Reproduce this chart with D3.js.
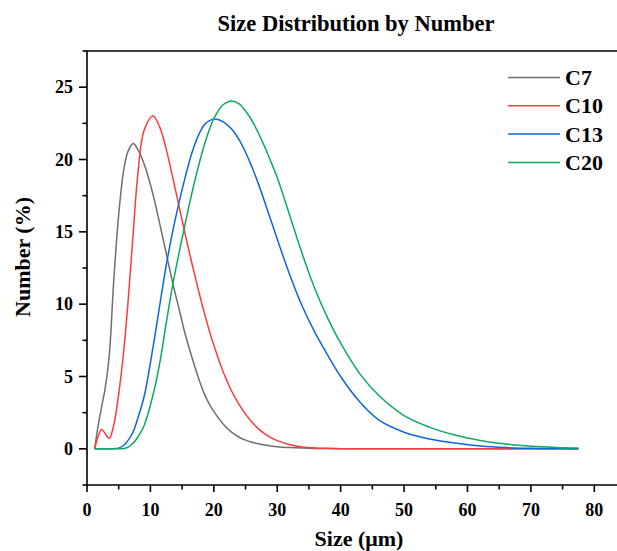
<!DOCTYPE html>
<html>
<head>
<meta charset="utf-8">
<script src="https://cdn.jsdelivr.net/npm/d3@7"></script>
<style>
  html, body { margin: 0; padding: 0; background: #fff; }
  svg { display: block; font-family: "Liberation Serif", "Times New Roman", serif; font-weight: bold; }
</style>
</head>
<body>
<svg id="chart" width="617" height="551"></svg>
<script>
// particle size grid (um), shared by all series
const sizes = [1.2, 1.8, 2.3, 2.8, 3.5, 4.2, 5, 5.8, 6.5, 7.3, 8, 9, 10.4, 11.5, 12.5, 13.5, 14.5, 15.5,
  16.5, 17.5, 18.5, 19.4, 20.2, 21.5, 22.8, 24, 25, 26, 27, 28, 29, 30, 32, 34, 36, 38, 40, 43, 46,
  50, 54, 58, 62, 66, 70, 74, 77.5];

const c7 = [0, 1.7, 2.9, 4.0, 6.4, 11.5, 16.2, 19.3, 20.6, 21.1, 20.7, 19.7, 17.6, 15.5, 13.5, 11.5,
  9.7, 7.9, 6.4, 5.0, 3.8, 3.0, 2.45, 1.7, 1.15, 0.8, 0.6, 0.46, 0.35, 0.27, 0.2, 0.15, 0.09, 0.05,
  0.03, 0.02, 0.01, 0, 0, 0, 0, 0, 0, 0, 0, 0, 0];

const c10 = [0, 0.9, 1.36, 1.1, 0.71, 1.6, 3.8, 6.8, 10.3, 15.0, 18.9, 22.0, 23.0, 22.2, 20.7, 18.8,
  16.8, 14.8, 12.9, 11.1, 9.4, 8.0, 6.9, 5.3, 4.0, 3.05, 2.4, 1.85, 1.4, 1.05, 0.77, 0.57, 0.28,
  0.12, 0.06, 0.03, 0.01, 0, 0, 0, 0, 0, 0, 0, 0, 0, 0];

const c13 = [0, 0, 0, 0, 0, 0.01, 0.05, 0.25, 0.6, 1.2, 2.1, 3.6, 7.0, 10.0, 12.7, 15.0, 17.0, 18.8,
  20.4, 21.6, 22.4, 22.7, 22.8, 22.6, 22.1, 21.35, 20.5, 19.5, 18.35, 17.1, 15.8, 14.5, 12.0, 9.8,
  8.0, 6.45, 5.0, 3.25, 2.0, 1.15, 0.68, 0.4, 0.2, 0.09, 0.04, 0.02, 0.01];

const c20 = [0, 0, 0, 0, 0, 0, 0, 0.02, 0.12, 0.4, 0.8, 1.6, 3.7, 6.0, 8.7, 11.3, 13.5, 15.6, 17.6,
  19.4, 21.0, 22.2, 23.0, 23.8, 24.05, 23.85, 23.35, 22.7, 21.85, 20.9, 19.85, 18.75, 16.1, 13.4,
  11.0, 9.0, 7.3, 5.2, 3.7, 2.3, 1.5, 0.95, 0.58, 0.33, 0.18, 0.1, 0.06];

const seriesNames = ['C7', 'C10', 'C13', 'C20'];
const seriesValues = [c7, c10, c13, c20];
const seriesColors = ['#6f6f6f', '#ff3a3a', '#0d66dd', '#0aaa62'];

const xTicks = [0, 10, 20, 30, 40, 50, 60, 70, 80];
const yTicks = [0, 5, 10, 15, 20, 25];

const svg = d3.select('#chart');
const margin = { left: 87, top: 51, bottom: 485, right: 626 };

const x = d3.scaleLinear().domain([0, 85]).range([margin.left, margin.right]);
const y = d3.scaleLinear().domain([-2.5, 27.5]).range([margin.bottom, margin.top]);

// frame (top + left + bottom, right side falls outside the window)
svg.append('path')
  .attr('d', `M${margin.right},${margin.top}H${margin.left}V${margin.bottom}H${margin.right}`)
  .attr('fill', 'none')
  .attr('stroke', '#000')
  .attr('stroke-width', 1.6);

// x axis
const xMinor = d3.range(5, 90, 10);
svg.append('g')
  .selectAll('line')
  .data(xTicks)
  .join('line')
  .attr('x1', d => x(d)).attr('x2', d => x(d))
  .attr('y1', margin.bottom).attr('y2', margin.bottom + 7)
  .attr('stroke', '#000').attr('stroke-width', 1.6);
svg.append('g')
  .selectAll('line')
  .data(xMinor)
  .join('line')
  .attr('x1', d => x(d)).attr('x2', d => x(d))
  .attr('y1', margin.bottom).attr('y2', margin.bottom + 4.5)
  .attr('stroke', '#000').attr('stroke-width', 1.6);
svg.append('g')
  .selectAll('text')
  .data(xTicks)
  .join('text')
  .attr('x', d => x(d))
  .attr('y', 516)
  .attr('text-anchor', 'middle')
  .attr('font-size', 18)
  .text(d => d);

// y axis
const yMinor = d3.range(-2.5, 28, 5);
svg.append('g')
  .selectAll('line')
  .data(yTicks)
  .join('line')
  .attr('x1', margin.left - 8).attr('x2', margin.left)
  .attr('y1', d => y(d)).attr('y2', d => y(d))
  .attr('stroke', '#000').attr('stroke-width', 1.6);
svg.append('g')
  .selectAll('line')
  .data(yMinor)
  .join('line')
  .attr('x1', margin.left - 4.5).attr('x2', margin.left)
  .attr('y1', d => y(d)).attr('y2', d => y(d))
  .attr('stroke', '#000').attr('stroke-width', 1.6);
svg.append('g')
  .selectAll('text')
  .data(yTicks)
  .join('text')
  .attr('x', 73)
  .attr('y', d => y(d) + 6)
  .attr('text-anchor', 'end')
  .attr('font-size', 18)
  .text(d => d);

// curves
const line = d3.line()
  .x((d, i) => x(sizes[i]))
  .y(d => y(d))
  .curve(d3.curveCatmullRom.alpha(0.5));

svg.append('g')
  .selectAll('path')
  .data(seriesValues)
  .join('path')
  .attr('d', d => line(d))
  .attr('fill', 'none')
  .attr('stroke', (d, i) => seriesColors[i])
  .attr('stroke-width', 1.5);

// legend
const legend = svg.append('g');
seriesNames.forEach((name, i) => {
  const ly = 77.5 + i * 28.3;
  legend.append('line')
    .attr('x1', 508).attr('x2', 560)
    .attr('y1', ly).attr('y2', ly)
    .attr('stroke', seriesColors[i])
    .attr('stroke-width', 1.5);
  legend.append('text')
    .attr('x', 565)
    .attr('y', ly + 7.5)
    .attr('font-size', 22)
    .text(name);
});

// titles
svg.append('text')
  .attr('x', 356)
  .attr('y', 31)
  .attr('text-anchor', 'middle')
  .attr('font-size', 22.5)
  .text('Size Distribution by Number');

svg.append('text')
  .attr('transform', 'translate(30,257) rotate(-90)')
  .attr('text-anchor', 'middle')
  .attr('font-size', 22)
  .text('Number (%)');

svg.append('text')
  .attr('x', 359)
  .attr('y', 546)
  .attr('text-anchor', 'middle')
  .attr('font-size', 22)
  .text('Size (μm)');
</script>
</body>
</html>
